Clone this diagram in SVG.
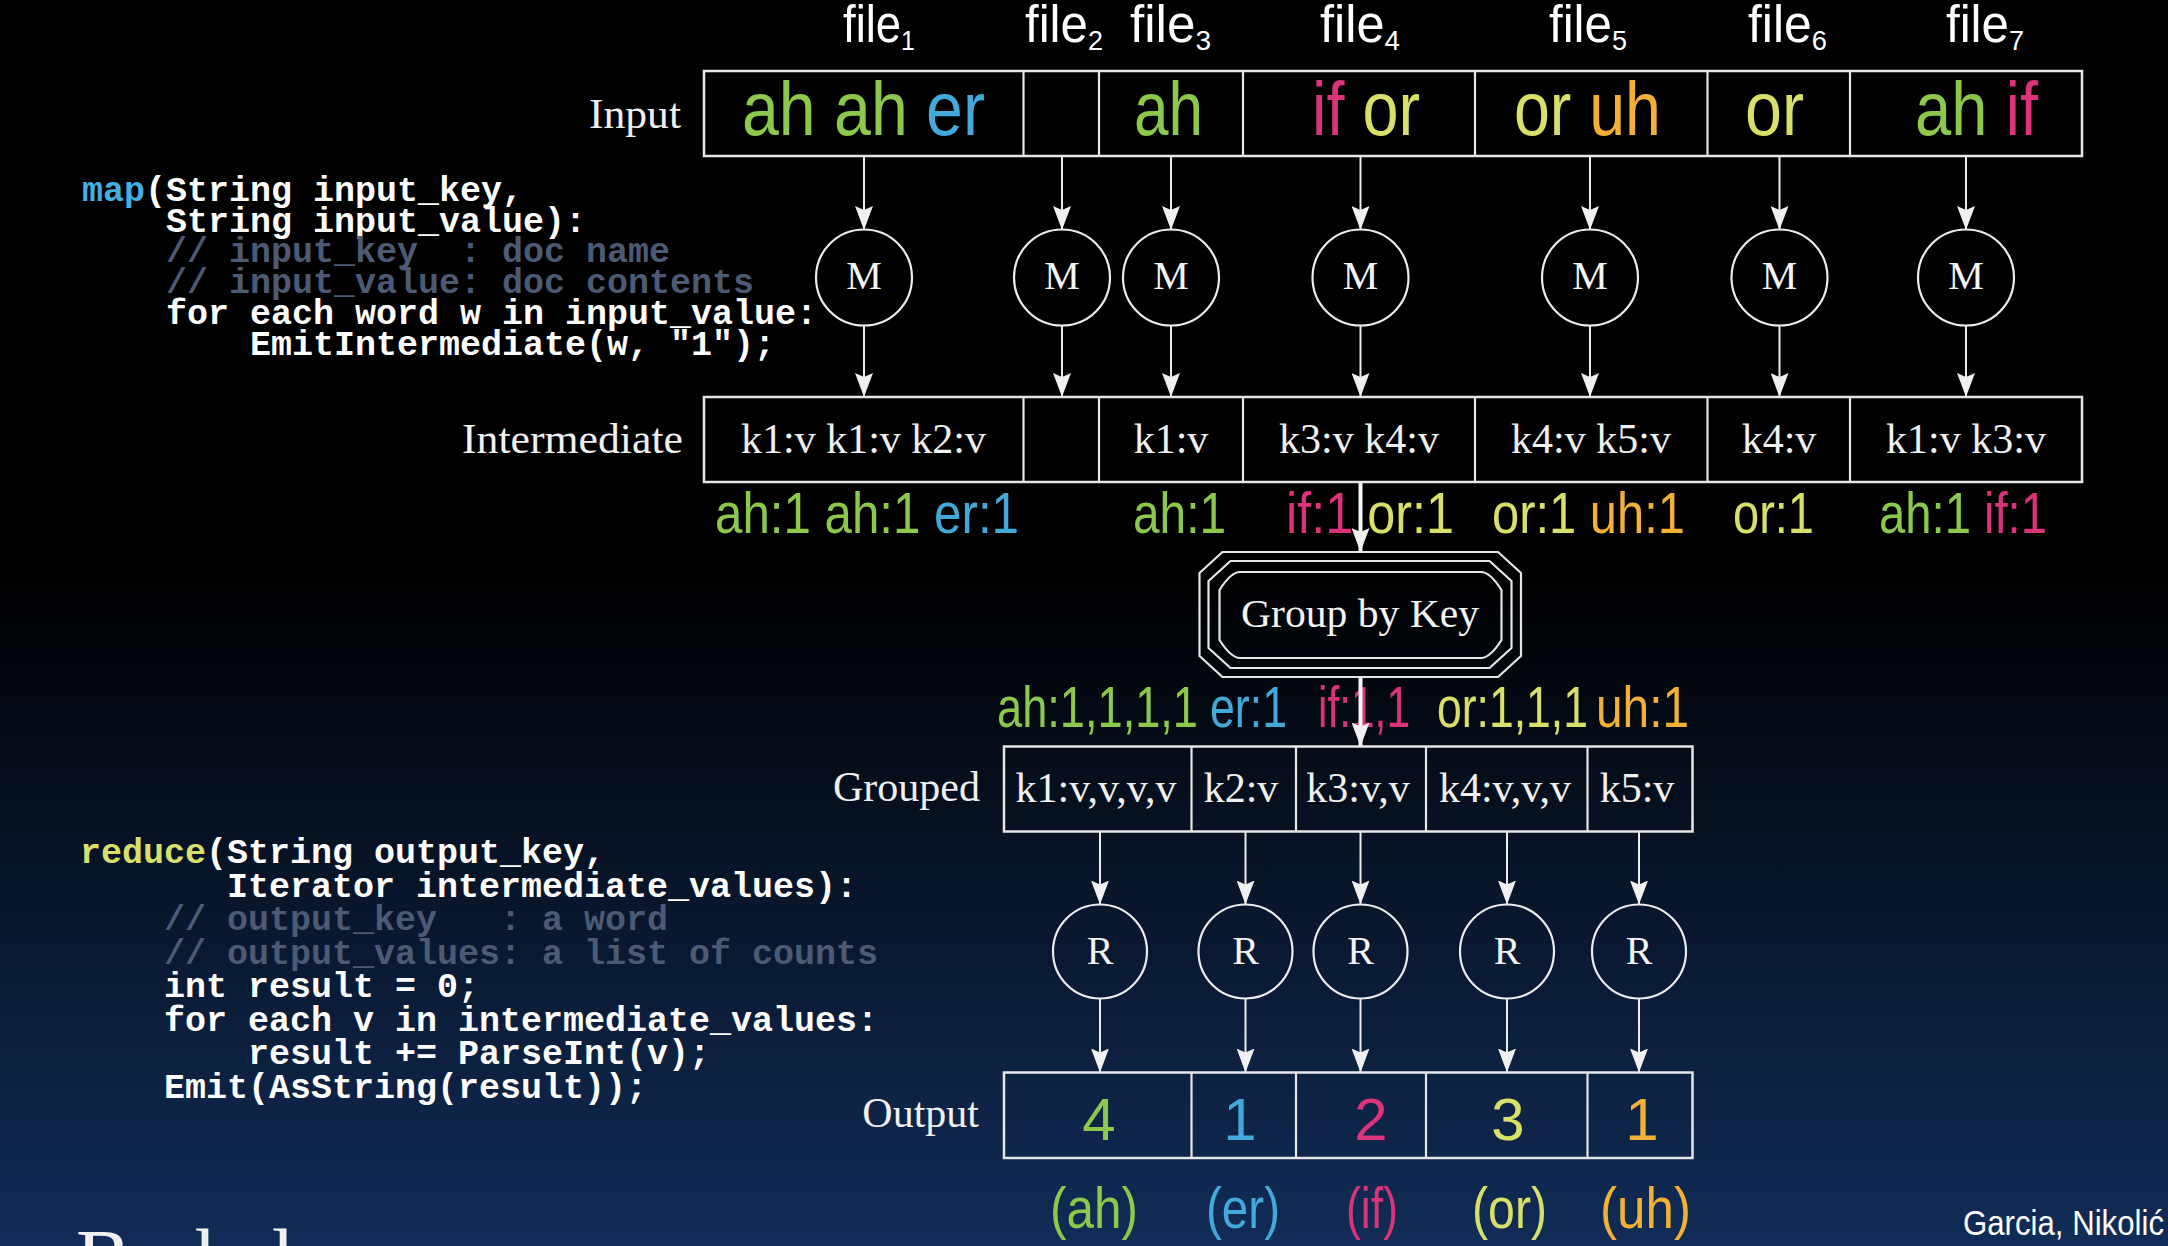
<svg xmlns="http://www.w3.org/2000/svg" width="2168" height="1246" viewBox="0 0 2168 1246">
<defs>
<linearGradient id="bg" x1="0" y1="0" x2="0" y2="1">
<stop offset="0" stop-color="#000000"/>
<stop offset="0.45" stop-color="#000000"/>
<stop offset="1" stop-color="#112c57"/>
</linearGradient>
<marker id="arr" viewBox="0 0 24 18" refX="24" refY="9" markerWidth="24" markerHeight="18" markerUnits="userSpaceOnUse" orient="auto">
<path d="M0,0 L24,9 L0,18 L4,9 Z" fill="#f0f0f0"/>
</marker>
<style>
.box{fill:none;stroke:#e6e6e6;stroke-width:2.5}
.div{stroke:#e6e6e6;stroke-width:2.2}
.edge{fill:none;stroke:#ececec;stroke-width:2;marker-end:url(#arr)}
.edge2{fill:none;stroke:#f4f4f4;stroke-width:4;marker-end:url(#arr)}
.ring{fill:none;stroke:#ececec;stroke-width:2.2}
.oct{fill:none;stroke:#e6e6e6;stroke-width:2.2;stroke-linejoin:round}
.serif{font-family:"Liberation Serif","Times New Roman",serif;fill:#f0f0f0}
.lbl{font-family:"Liberation Serif","Times New Roman",serif;fill:#f0f0f0;font-size:42px;text-anchor:end}
.cell{font-family:"Liberation Serif","Times New Roman",serif;fill:#f0f0f0;font-size:42px;text-anchor:middle}
.nd{font-family:"Liberation Serif","Times New Roman",serif;fill:#f4f4f4;font-size:40px;text-anchor:middle}
.sans{font-family:"Liberation Sans",Arial,sans-serif}
.big{font-family:"Liberation Sans",Arial,sans-serif;font-size:58px}
.huge{font-family:"Liberation Sans",Arial,sans-serif;font-size:76px}
.code{font-family:"Liberation Mono","Courier New",monospace;font-weight:bold;font-size:35px;fill:#ffffff}
.cm{fill:#4d5a74}
.kmap{fill:#45afe0}
.kred{fill:#d8e06c}
.g{fill:#8cc84b}
.b{fill:#43a9d9}
.p{fill:#da3379}
.y{fill:#d8e06a}
.o{fill:#f2b134}
</style>
</defs>

<rect x="0" y="0" width="2168" height="1246" fill="url(#bg)"/>

<g id="file-labels" class="sans" font-size="51">
<text x="843" y="42" textLength="72" lengthAdjust="spacingAndGlyphs" fill="#fff">file<tspan dy="8" font-size="28">1</tspan></text>
<text x="1025" y="42" textLength="78" lengthAdjust="spacingAndGlyphs" fill="#fff">file<tspan dy="8" font-size="28">2</tspan></text>
<text x="1130" y="42" textLength="81" lengthAdjust="spacingAndGlyphs" fill="#fff">file<tspan dy="8" font-size="28">3</tspan></text>
<text x="1320" y="42" textLength="80" lengthAdjust="spacingAndGlyphs" fill="#fff">file<tspan dy="8" font-size="28">4</tspan></text>
<text x="1549" y="42" textLength="78" lengthAdjust="spacingAndGlyphs" fill="#fff">file<tspan dy="8" font-size="28">5</tspan></text>
<text x="1748" y="42" textLength="79" lengthAdjust="spacingAndGlyphs" fill="#fff">file<tspan dy="8" font-size="28">6</tspan></text>
<text x="1946" y="42" textLength="78" lengthAdjust="spacingAndGlyphs" fill="#fff">file<tspan dy="8" font-size="28">7</tspan></text>
</g>

<g id="map-code" class="code">
<text x="82" y="201"><tspan class="kmap">map</tspan>(String input_key,</text>
<text x="166" y="232">String input_value):</text>
<text x="166" y="262" class="cm">// input_key&#160;&#160;: doc name</text>
<text x="166" y="293" class="cm">// input_value: doc contents</text>
<text x="166" y="324">for each word w in input_value:</text>
<text x="250" y="355">EmitIntermediate(w, "1");</text>
</g>

<g id="reduce-code" class="code">
<text x="80" y="863"><tspan class="kred">reduce</tspan>(String output_key,</text>
<text x="227" y="896.5">Iterator intermediate_values):</text>
<text x="164" y="930" class="cm">// output_key&#160;&#160;&#160;: a word</text>
<text x="164" y="963.5" class="cm">// output_values: a list of counts</text>
<text x="164" y="997">int result = 0;</text>
<text x="164" y="1030.5">for each v in intermediate_values:</text>
<text x="248" y="1064">result += ParseInt(v);</text>
<text x="164" y="1097.5">Emit(AsString(result));</text>
</g>

<g id="intermediate-pairs" class="big">
<text x="715" y="533" textLength="304" lengthAdjust="spacingAndGlyphs"><tspan class="g">ah:1 ah:1 </tspan><tspan class="b">er:1</tspan></text>
<text x="1133" y="533" textLength="93" lengthAdjust="spacingAndGlyphs" class="g">ah:1</text>
<text x="1286" y="533" textLength="168" lengthAdjust="spacingAndGlyphs"><tspan class="p">if:1 </tspan><tspan class="y">or:1</tspan></text>
<text x="1492" y="533" textLength="193" lengthAdjust="spacingAndGlyphs"><tspan class="y">or:1 </tspan><tspan class="o">uh:1</tspan></text>
<text x="1733" y="533" textLength="81" lengthAdjust="spacingAndGlyphs" class="y">or:1</text>
<text x="1879" y="533" textLength="168" lengthAdjust="spacingAndGlyphs"><tspan class="g">ah:1 </tspan><tspan class="p">if:1</tspan></text>
</g>

<g id="grouped-pairs" class="big">
<text x="997" y="727" textLength="201" lengthAdjust="spacingAndGlyphs" class="g">ah:1,1,1,1</text>
<text x="1210" y="727" textLength="77" lengthAdjust="spacingAndGlyphs" class="b">er:1</text>
<text x="1318" y="727" textLength="92" lengthAdjust="spacingAndGlyphs" class="p">if:1,1</text>
<text x="1437" y="727" textLength="151" lengthAdjust="spacingAndGlyphs" class="y">or:1,1,1</text>
<text x="1596" y="727" textLength="93" lengthAdjust="spacingAndGlyphs" class="o">uh:1</text>
</g>

<g id="output-keys" class="big">
<text x="1050" y="1228" textLength="88" lengthAdjust="spacingAndGlyphs" class="g">(ah)</text>
<text x="1206" y="1228" textLength="74" lengthAdjust="spacingAndGlyphs" class="b">(er)</text>
<text x="1346" y="1228" textLength="52" lengthAdjust="spacingAndGlyphs" class="p">(if)</text>
<text x="1472" y="1228" textLength="75" lengthAdjust="spacingAndGlyphs" class="y">(or)</text>
<text x="1600" y="1228" textLength="91" lengthAdjust="spacingAndGlyphs" class="o">(uh)</text>
</g>

<g id="connectors">
<line class="edge" x1="864" y1="156" x2="864" y2="230"/>
<line class="edge" x1="1062" y1="156" x2="1062" y2="230"/>
<line class="edge" x1="1171" y1="156" x2="1171" y2="230"/>
<line class="edge" x1="1360.5" y1="156" x2="1360.5" y2="230"/>
<line class="edge" x1="1590" y1="156" x2="1590" y2="230"/>
<line class="edge" x1="1779.5" y1="156" x2="1779.5" y2="230"/>
<line class="edge" x1="1966" y1="156" x2="1966" y2="230"/>
<line class="edge" x1="864" y1="325" x2="864" y2="397"/>
<line class="edge" x1="1062" y1="325" x2="1062" y2="397"/>
<line class="edge" x1="1171" y1="325" x2="1171" y2="397"/>
<line class="edge" x1="1360.5" y1="325" x2="1360.5" y2="397"/>
<line class="edge" x1="1590" y1="325" x2="1590" y2="397"/>
<line class="edge" x1="1779.5" y1="325" x2="1779.5" y2="397"/>
<line class="edge" x1="1966" y1="325" x2="1966" y2="397"/>
<line class="edge2" x1="1360.5" y1="482" x2="1360.5" y2="552"/>
<line class="edge2" x1="1360.5" y1="677" x2="1360.5" y2="746.5"/>
<line class="edge" x1="1100" y1="831.5" x2="1100" y2="904.5"/>
<line class="edge" x1="1245.5" y1="831.5" x2="1245.5" y2="904.5"/>
<line class="edge" x1="1360.5" y1="831.5" x2="1360.5" y2="904.5"/>
<line class="edge" x1="1507" y1="831.5" x2="1507" y2="904.5"/>
<line class="edge" x1="1639" y1="831.5" x2="1639" y2="904.5"/>
<line class="edge" x1="1100" y1="999" x2="1100" y2="1072.5"/>
<line class="edge" x1="1245.5" y1="999" x2="1245.5" y2="1072.5"/>
<line class="edge" x1="1360.5" y1="999" x2="1360.5" y2="1072.5"/>
<line class="edge" x1="1507" y1="999" x2="1507" y2="1072.5"/>
<line class="edge" x1="1639" y1="999" x2="1639" y2="1072.5"/>
</g>

<g id="input">
<rect class="box" x="704" y="71" width="1378" height="85"/>
<line class="div" x1="1023.5" y1="71" x2="1023.5" y2="156"/>
<line class="div" x1="1099" y1="71" x2="1099" y2="156"/>
<line class="div" x1="1243" y1="71" x2="1243" y2="156"/>
<line class="div" x1="1475" y1="71" x2="1475" y2="156"/>
<line class="div" x1="1707.5" y1="71" x2="1707.5" y2="156"/>
<line class="div" x1="1850" y1="71" x2="1850" y2="156"/>
<text class="lbl" x="681" y="128" textLength="92" lengthAdjust="spacingAndGlyphs">Input</text>
<g class="huge">
<text x="742" y="135" textLength="243" lengthAdjust="spacingAndGlyphs"><tspan class="g">ah ah </tspan><tspan class="b">er</tspan></text>
<text x="1134" y="135" textLength="69" lengthAdjust="spacingAndGlyphs" class="g">ah</text>
<text x="1312" y="135" textLength="108" lengthAdjust="spacingAndGlyphs"><tspan class="p">if </tspan><tspan class="y">or</tspan></text>
<text x="1514" y="135" textLength="147" lengthAdjust="spacingAndGlyphs"><tspan class="y">or </tspan><tspan class="o">uh</tspan></text>
<text x="1745" y="135" textLength="59" lengthAdjust="spacingAndGlyphs" class="y">or</text>
<text x="1915" y="135" textLength="123" lengthAdjust="spacingAndGlyphs"><tspan class="g">ah </tspan><tspan class="p">if</tspan></text>
</g>
</g>

<g id="map1"><circle class="ring" cx="864" cy="277.5" r="48"/><text class="nd" x="864" y="288.5">M</text></g>
<g id="map2"><circle class="ring" cx="1062" cy="277.5" r="48"/><text class="nd" x="1062" y="288.5">M</text></g>
<g id="map3"><circle class="ring" cx="1171" cy="277.5" r="48"/><text class="nd" x="1171" y="288.5">M</text></g>
<g id="map4"><circle class="ring" cx="1360.5" cy="277.5" r="48"/><text class="nd" x="1360.5" y="288.5">M</text></g>
<g id="map5"><circle class="ring" cx="1590" cy="277.5" r="48"/><text class="nd" x="1590" y="288.5">M</text></g>
<g id="map6"><circle class="ring" cx="1779.5" cy="277.5" r="48"/><text class="nd" x="1779.5" y="288.5">M</text></g>
<g id="map7"><circle class="ring" cx="1966" cy="277.5" r="48"/><text class="nd" x="1966" y="288.5">M</text></g>

<g id="intermediate">
<rect class="box" x="704" y="397" width="1378" height="85"/>
<line class="div" x1="1023.5" y1="397" x2="1023.5" y2="482"/>
<line class="div" x1="1099" y1="397" x2="1099" y2="482"/>
<line class="div" x1="1243" y1="397" x2="1243" y2="482"/>
<line class="div" x1="1475" y1="397" x2="1475" y2="482"/>
<line class="div" x1="1707.5" y1="397" x2="1707.5" y2="482"/>
<line class="div" x1="1850" y1="397" x2="1850" y2="482"/>
<text class="lbl" x="683" y="453" textLength="221" lengthAdjust="spacingAndGlyphs">Intermediate</text>
<text class="cell" x="863.5" y="453">k1:v k1:v k2:v</text>
<text class="cell" x="1171" y="453">k1:v</text>
<text class="cell" x="1359" y="453">k3:v k4:v</text>
<text class="cell" x="1591" y="453">k4:v k5:v</text>
<text class="cell" x="1779" y="453">k4:v</text>
<text class="cell" x="1966" y="453">k1:v k3:v</text>
</g>

<g id="group-by-key">
<path class="oct" d="M1222.5,552 H1498 L1521,573 V656 L1498,677 H1222.5 L1199.5,656 V573 Z"/>
<path class="oct" d="M1230.5,561 H1489.5 L1511.5,581 V648 L1489.5,668 H1230.5 L1208.5,648 V581 Z"/>
<path class="oct" d="M1240,572 H1481 Q1490,572 1501.5,590 V640 Q1490,658 1481,658 H1240 Q1231,658 1219.5,640 V590 Q1231,572 1240,572 Z"/>
<text class="nd" x="1360" y="627" textLength="238" lengthAdjust="spacingAndGlyphs">Group by Key</text>
</g>

<g id="grouped">
<rect class="box" x="1004" y="746.5" width="688.5" height="85"/>
<line class="div" x1="1191.5" y1="746.5" x2="1191.5" y2="831.5"/>
<line class="div" x1="1296" y1="746.5" x2="1296" y2="831.5"/>
<line class="div" x1="1426" y1="746.5" x2="1426" y2="831.5"/>
<line class="div" x1="1587.5" y1="746.5" x2="1587.5" y2="831.5"/>
<text class="lbl" x="980" y="801">Grouped</text>
<text class="cell" x="1096" y="802">k1:v,v,v,v</text>
<text class="cell" x="1241" y="802">k2:v</text>
<text class="cell" x="1358" y="802">k3:v,v</text>
<text class="cell" x="1505" y="802">k4:v,v,v</text>
<text class="cell" x="1637" y="802">k5:v</text>
</g>

<g id="reduce1"><circle class="ring" cx="1100" cy="951.5" r="47"/><text class="nd" x="1100" y="964">R</text></g>
<g id="reduce2"><circle class="ring" cx="1245.5" cy="951.5" r="47"/><text class="nd" x="1245.5" y="964">R</text></g>
<g id="reduce3"><circle class="ring" cx="1360.5" cy="951.5" r="47"/><text class="nd" x="1360.5" y="964">R</text></g>
<g id="reduce4"><circle class="ring" cx="1507" cy="951.5" r="47"/><text class="nd" x="1507" y="964">R</text></g>
<g id="reduce5"><circle class="ring" cx="1639" cy="951.5" r="47"/><text class="nd" x="1639" y="964">R</text></g>

<g id="output">
<rect class="box" x="1004" y="1072.5" width="688.5" height="85.5"/>
<line class="div" x1="1191.5" y1="1072.5" x2="1191.5" y2="1158"/>
<line class="div" x1="1296" y1="1072.5" x2="1296" y2="1158"/>
<line class="div" x1="1426" y1="1072.5" x2="1426" y2="1158"/>
<line class="div" x1="1587.5" y1="1072.5" x2="1587.5" y2="1158"/>
<text class="lbl" x="979" y="1127">Output</text>
<g class="sans" font-size="60" text-anchor="middle">
<text x="1099" y="1140" class="g">4</text>
<text x="1240" y="1140" class="b">1</text>
<text x="1371" y="1140" class="p">2</text>
<text x="1508" y="1140" class="y">3</text>
<text x="1642" y="1140" class="o">1</text>
</g>
</g>

<text class="sans" x="1963" y="1235" font-size="35" fill="#ffffff" textLength="201" lengthAdjust="spacingAndGlyphs">Garcia, Nikolić</text>
<text class="serif" x="76" y="1286" font-size="82" fill="#ffffff">Berkeley</text>
</svg>
